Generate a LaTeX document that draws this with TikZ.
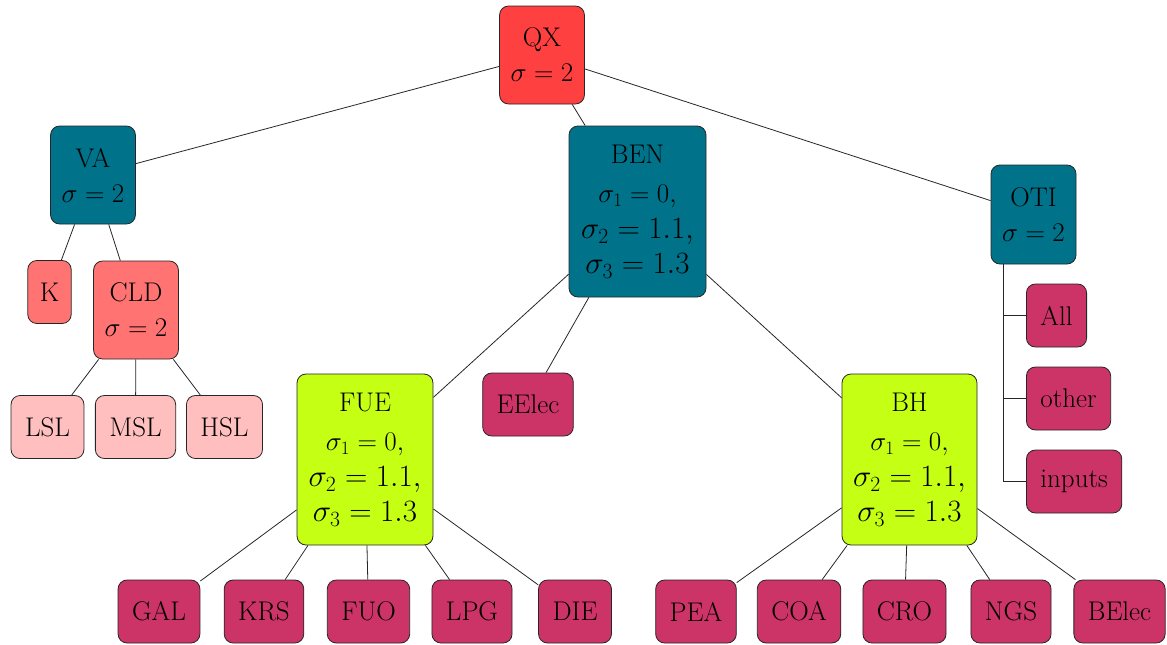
\RequirePackage{fix-cm}
\documentclass[tikz,border=0pt]{standalone}
\definecolor{qxred}{RGB}{255,64,64}
\definecolor{tealc}{RGB}{0,114,138}
\definecolor{salmon}{RGB}{255,115,115}
\definecolor{pinkc}{RGB}{255,191,191}
\definecolor{limec}{RGB}{197,255,20}
\definecolor{leafc}{RGB}{204,51,102}
\newcommand{\sigone}{$\sigma = 2$}
\newcommand{\sigmany}{$\sigma_1 = 0,$\\[1pt]{\fontsize{31}{35}\selectfont$\sigma_2 = 1.1,$}\\{\fontsize{31}{35}\selectfont$\sigma_3 = 1.3$}}
\begin{document}
\begin{tikzpicture}[x=1pt,y=-1pt,
  box/.style={draw=black!85, rounded corners=9pt, line width=0.8pt, align=center,
    inner xsep=14pt, inner ysep=0pt, minimum height=63pt, font=\fontsize{27}{35}\selectfont},
  bigbox/.style={box, inner xsep=11pt},
  leaf/.style={box, fill=leafc},
  edge/.style={draw=black!85, line width=0.8pt}]
\useasboundingbox (0,0) rectangle (1167,645);
% level 0/1
\node[bigbox, fill=qxred, minimum width=84pt, minimum height=98pt] (QX) at (542,55) {QX\\\sigone};
\node[bigbox, fill=tealc, minimum width=84pt, minimum height=98pt] (VA) at (93,175) {VA\\\sigone};
\node[bigbox, fill=tealc, minimum width=137pt, minimum height=171pt] (BEN) at (637.5,211.5) {BEN\\[4pt]\sigmany};
\node[bigbox, fill=tealc, minimum width=85pt, minimum height=99pt] (OTI) at (1033.5,214.5) {OTI\\\sigone};
% VA children
\node[box, fill=salmon, inner xsep=12pt] (K) at (49.5,292) {K};
\node[bigbox, fill=salmon, minimum width=84pt, minimum height=98pt] (CLD) at (136,310) {CLD\\\sigone};
\node[box, fill=pinkc] (LSL) at (47.5,427) {LSL};
\node[box, fill=pinkc] (MSL) at (135.5,427) {MSL};
\node[box, fill=pinkc] (HSL) at (224.5,427) {HSL};
% BEN children
\node[bigbox, fill=limec, minimum width=136pt, minimum height=171pt] (FUE) at (365,459.5) {FUE\\[4pt]\sigmany};
\node[leaf] (EElec) at (528,404.5) {EElec};
\node[bigbox, fill=limec, minimum width=135pt, minimum height=171pt] (BH) at (909.5,459.5) {BH\\[4pt]\sigmany};
% OTI children
\node[leaf, anchor=west] (All) at (1026,315.5) {All};
\node[leaf, anchor=west] (other) at (1026,398.5) {other};
\node[leaf, anchor=west] (inputs) at (1026,481.5) {inputs};
% bottom row
\node[leaf] (GAL) at (159,611.5) {GAL};
\node[leaf] (KRS) at (264,611.5) {KRS};
\node[leaf] (FUO) at (368.5,611.5) {FUO};
\node[leaf] (LPG) at (472,611.5) {LPG};
\node[leaf] (DIE) at (575,611.5) {DIE};
\node[leaf] (PEA) at (696,611.5) {PEA};
\node[leaf] (COA) at (799,611.5) {COA};
\node[leaf] (CRO) at (904.5,611.5) {CRO};
\node[leaf] (NGS) at (1011,611.5) {NGS};
\node[leaf] (BElec) at (1119.5,611.5) {BElec};
% edges
\foreach \a/\b in {QX/VA, QX/BEN, QX/OTI, VA/K, VA/CLD, CLD/LSL, CLD/MSL, CLD/HSL,
  BEN/FUE, BEN/EElec, BEN/BH, FUE/GAL, FUE/KRS, FUE/FUO, FUE/LPG, FUE/DIE,
  BH/PEA, BH/COA, BH/CRO, BH/NGS, BH/BElec}
  \draw[edge] (\a) -- (\b);
\coordinate (otib) at ([xshift=13pt]OTI.south west);
\foreach \c in {All, other, inputs}
  \draw[edge] (otib) |- (\c.west);
\end{tikzpicture}
\end{document}
